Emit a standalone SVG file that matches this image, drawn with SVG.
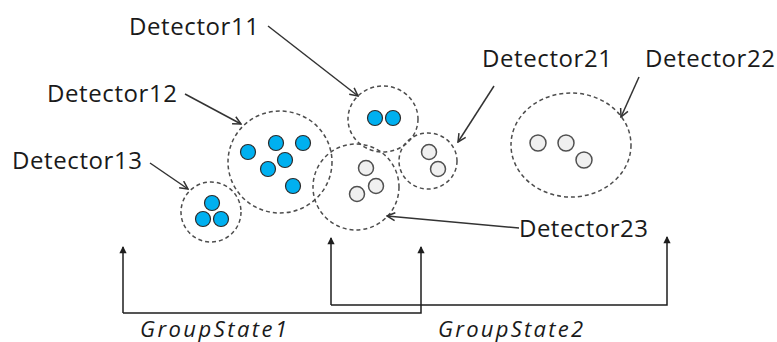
<svg xmlns="http://www.w3.org/2000/svg" width="777" height="342" viewBox="0 0 777 342">
<style>
.bg{fill:#ffffff}
.zone{fill:none;stroke:#4d4d4d;stroke-width:1.5;stroke-dasharray:4 3}
.blue{fill:#00b0f0;stroke:#2a2a2a;stroke-width:1.2}
.gray{fill:#f0f0f0;stroke:#505050;stroke-width:1.5}
.lbl{font-family:"Open Sans","Liberation Sans",sans-serif;font-size:24px;fill:#1a1a1a}
.grp{font-family:"Open Sans","Liberation Sans",sans-serif;font-size:22px;font-style:italic;fill:#1a1a1a}
.ptr{fill:none;stroke:#333333;stroke-width:1.5;marker-end:url(#open)}
.grpline{fill:none;stroke:#1e1e1e;stroke-width:1.5;marker-end:url(#solid)}
</style>
<defs>
<marker id="open" viewBox="0 0 10 10" refX="9" refY="5" markerWidth="10" markerHeight="10" markerUnits="userSpaceOnUse" orient="auto">
<path d="M1,1 L9,5 L1,9" fill="none" stroke="#333333" stroke-width="1.5"/>
</marker>
<marker id="solid" viewBox="0 0 8 10" refX="7" refY="5" markerWidth="8" markerHeight="9" markerUnits="userSpaceOnUse" orient="auto">
<path d="M0,1 L8,5 L0,9 Z" fill="#1e1e1e"/>
</marker>
</defs>
<rect class="bg" x="0" y="0" width="777" height="342"/>

<g id="Detector13">
<circle class="zone" cx="211" cy="212" r="30"/>
<circle class="blue" cx="212" cy="203" r="7.5"/>
<circle class="blue" cx="203" cy="219" r="7.5"/>
<circle class="blue" cx="221" cy="219" r="7.5"/>
<text class="lbl" x="12" y="169" textLength="130" lengthAdjust="spacing">Detector13</text>
</g>

<g id="Detector12">
<ellipse class="zone" cx="280" cy="162" rx="52" ry="51"/>
<circle class="blue" cx="248" cy="152" r="7.5"/>
<circle class="blue" cx="276" cy="143" r="7.5"/>
<circle class="blue" cx="303" cy="143" r="7.5"/>
<circle class="blue" cx="285" cy="160" r="7.5"/>
<circle class="blue" cx="268" cy="169" r="7.5"/>
<circle class="blue" cx="293" cy="186" r="7.5"/>
<text class="lbl" x="47" y="102" textLength="130" lengthAdjust="spacing">Detector12</text>
</g>

<g id="Detector11">
<ellipse class="zone" cx="383" cy="119" rx="35" ry="33"/>
<circle class="blue" cx="375" cy="118" r="7.5"/>
<circle class="blue" cx="393" cy="118" r="7.5"/>
<text class="lbl" x="129" y="35" textLength="130" lengthAdjust="spacing">Detector11</text>
</g>

<g id="Detector23">
<ellipse class="zone" cx="356" cy="187" rx="43" ry="43"/>
<circle class="gray" cx="366" cy="168" r="7.5"/>
<circle class="gray" cx="376" cy="186" r="7.5"/>
<circle class="gray" cx="357" cy="194" r="7.5"/>
<text class="lbl" x="519" y="237" textLength="129" lengthAdjust="spacing">Detector23</text>
</g>

<g id="Detector21">
<ellipse class="zone" cx="428" cy="161" rx="29" ry="28"/>
<circle class="gray" cx="429" cy="152" r="7.5"/>
<circle class="gray" cx="438" cy="169" r="7.5"/>
<text class="lbl" x="482" y="67" textLength="130" lengthAdjust="spacing">Detector21</text>
</g>

<g id="Detector22">
<ellipse class="zone" cx="571" cy="145" rx="60" ry="52"/>
<circle class="gray" cx="538" cy="143" r="8"/>
<circle class="gray" cx="566" cy="143" r="8"/>
<circle class="gray" cx="584" cy="160" r="8"/>
<text class="lbl" x="645" y="67" textLength="130" lengthAdjust="spacing">Detector22</text>
</g>

<g id="GroupState1">
<text class="grp" x="140" y="337" textLength="147" lengthAdjust="spacing">GroupState1</text>
</g>
<g id="GroupState2">
<text class="grp" x="438" y="337" textLength="145" lengthAdjust="spacing">GroupState2</text>
</g>

<g id="connectors">
<path class="ptr" d="M268,26 L358,96"/>
<path class="ptr" d="M185,94 L241,124"/>
<path class="ptr" d="M150,163 L188,189"/>
<path class="ptr" d="M494,86 L458,142"/>
<path class="ptr" d="M639,77 L621,117"/>
<path class="ptr" d="M519,228 L387,216"/>
<path class="grpline" d="M123,313 V247"/>
<path class="grpline" d="M123,313 H421 V247"/>
<path class="grpline" d="M331,305 V238"/>
<path class="grpline" d="M331,305 H667 V237"/>
</g>
</svg>
